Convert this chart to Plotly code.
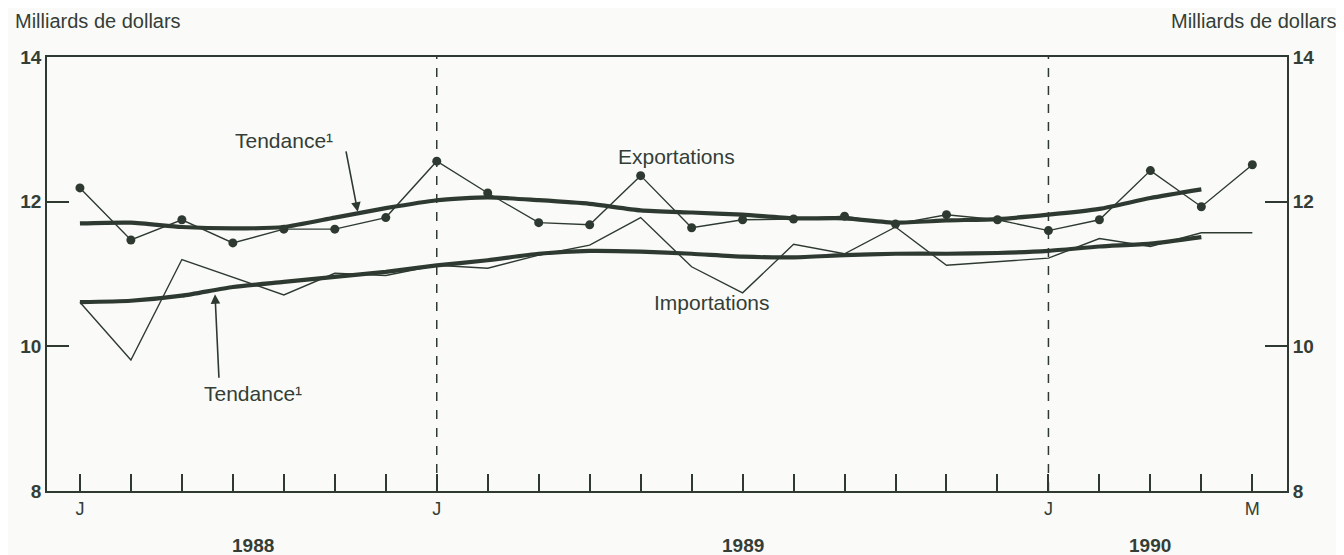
import plotly.graph_objects as go

# Months from June 1988 to May 1990
months = ["1988-06", "1988-07", "1988-08", "1988-09", "1988-10", "1988-11", "1988-12",
          "1989-01", "1989-02", "1989-03", "1989-04", "1989-05", "1989-06", "1989-07",
          "1989-08", "1989-09", "1989-10", "1989-11", "1989-12",
          "1990-01", "1990-02", "1990-03", "1990-04", "1990-05"]
month_letters = ["J", "", "", "", "", "", "", "J", "", "", "", "", "", "", "", "", "", "", "",
                 "J", "", "", "", "M"]

exportations = [12.19, 11.47, 11.75, 11.43, 11.62, 11.62, 11.78,
                12.56, 12.12, 11.71, 11.68, 12.36, 11.64, 11.75, 11.76, 11.80,
                11.69, 11.82, 11.75, 11.60, 11.75, 12.43, 11.93, 12.51]
importations = [10.61, 9.81, 11.20, 10.95, 10.71, 11.01, 10.98,
                11.12, 11.08, 11.26, 11.40, 11.78, 11.10, 10.74, 11.41, 11.28,
                11.65, 11.12, 11.17, 11.22, 11.49, 11.38, 11.57, 11.57]
tendance_export = [11.70, 11.71, 11.65, 11.63, 11.65, 11.78, 11.91,
                   12.02, 12.06, 12.02, 11.97, 11.88, 11.85, 11.82, 11.77, 11.77,
                   11.71, 11.74, 11.76, 11.82, 11.90, 12.05, 12.17]
tendance_import = [10.61, 10.63, 10.70, 10.82, 10.89, 10.96, 11.03,
                   11.12, 11.19, 11.28, 11.32, 11.31, 11.28, 11.24, 11.23, 11.26,
                   11.28, 11.28, 11.29, 11.32, 11.38, 11.42, 11.51]

years = ["1988", "1989", "1990"]
year_pos = [3.4, 13.0, 21.0]
vlines = [7, 19]

idx = list(range(len(months)))
ink = "#2e3a31"
txt = "#343e37"
font = "Liberation Sans, Arial, sans-serif"

fig = go.Figure()
fig.add_trace(go.Scatter(x=idx, y=importations, mode="lines",
                         line=dict(color=ink, width=1.4), hoverinfo="skip"))
fig.add_trace(go.Scatter(x=idx[:len(tendance_import)], y=tendance_import, mode="lines",
                         line=dict(color=ink, width=4.2, shape="spline", smoothing=0.6)))
fig.add_trace(go.Scatter(x=idx[:len(tendance_export)], y=tendance_export, mode="lines",
                         line=dict(color=ink, width=4.2, shape="spline", smoothing=0.6)))
fig.add_trace(go.Scatter(x=idx, y=exportations, mode="lines+markers",
                         line=dict(color=ink, width=1.4),
                         marker=dict(color=ink, size=9)))
# invisible trace for right axis
fig.add_trace(go.Scatter(x=[idx[0]], y=[8], yaxis="y2", mode="markers",
                         marker=dict(opacity=0), hoverinfo="skip"))

for v in vlines:
    fig.add_shape(type="line", x0=v, x1=v, y0=0, y1=1, xref="x", yref="paper",
                  line=dict(color=ink, width=1.5, dash="dash"))

ann = []
for y, p in zip(years, year_pos):
    ann.append(dict(x=p, y=-0.1255, xref="x", yref="paper", text=y, showarrow=False,
                    yanchor="middle",
                    font=dict(size=19, color=txt, family=font, weight="bold")))
ann.append(dict(x=0, y=1.113, xref="paper", yref="paper", text="Milliards de dollars",
                showarrow=False, xanchor="left", yanchor="top", xshift=-34,
                font=dict(size=20, color=txt, family=font)))
ann.append(dict(x=1, y=1.113, xref="paper", yref="paper", text="Milliards de dollars",
                showarrow=False, xanchor="right", yanchor="top", xshift=52,
                font=dict(size=20, color=txt, family=font)))
ann.append(dict(x=4.0, y=12.85, text="Tendance¹", showarrow=False,
                font=dict(size=21, color=txt, family=font)))
ann.append(dict(x=5.45, y=11.86, text="", showarrow=True, arrowhead=2, arrowsize=1.2,
                arrowwidth=1.6, arrowcolor=ink, axref="pixel", ayref="pixel", ax=-12, ay=-62))
ann.append(dict(x=3.4, y=9.35, text="Tendance¹", showarrow=False,
                font=dict(size=21, color=txt, family=font)))
ann.append(dict(x=2.65, y=10.72, text="", showarrow=True, arrowhead=2, arrowsize=1.2,
                arrowwidth=1.6, arrowcolor=ink, axref="pixel", ayref="pixel", ax=4, ay=85))
ann.append(dict(x=11.7, y=12.62, text="Exportations", showarrow=False,
                font=dict(size=21, color=txt, family=font)))
ann.append(dict(x=12.4, y=10.6, text="Importations", showarrow=False,
                font=dict(size=21, color=txt, family=font)))

fig.update_layout(
    width=1336, height=547,
    margin=dict(l=35, r=57, t=49, b=64),
    paper_bgcolor="#fafbf8", plot_bgcolor="#fafbf8",
    showlegend=False,
    font=dict(family=font, color=txt),
    annotations=ann,
    xaxis=dict(range=[-0.646, 23.68], tickmode="array", tickvals=idx, ticktext=month_letters,
               ticks="inside", ticklen=17, tickwidth=1.5, tickcolor=ink,
               showline=True, linecolor=ink, linewidth=1.8, mirror=True,
               showgrid=False, zeroline=False,
               tickfont=dict(size=18, color=txt, family=font)),
    yaxis=dict(range=[8, 14], tickvals=[8, 10, 12, 14], ticks="inside", ticklen=22,
               tickwidth=1.5, tickcolor=ink, showline=True, linecolor=ink, linewidth=1.8,
               mirror=True, showgrid=False, zeroline=False,
               tickfont=dict(size=19, color=txt, family=font, weight="bold")),
    yaxis2=dict(range=[8, 14], tickvals=[8, 10, 12, 14], ticks="inside", ticklen=22,
                tickwidth=1.5, tickcolor=ink, overlaying="y", side="right",
                showline=True, linecolor=ink, linewidth=1.8, showgrid=False, zeroline=False,
                tickfont=dict(size=19, color=txt, family=font, weight="bold")),
)

fig.write_html("out.html")
